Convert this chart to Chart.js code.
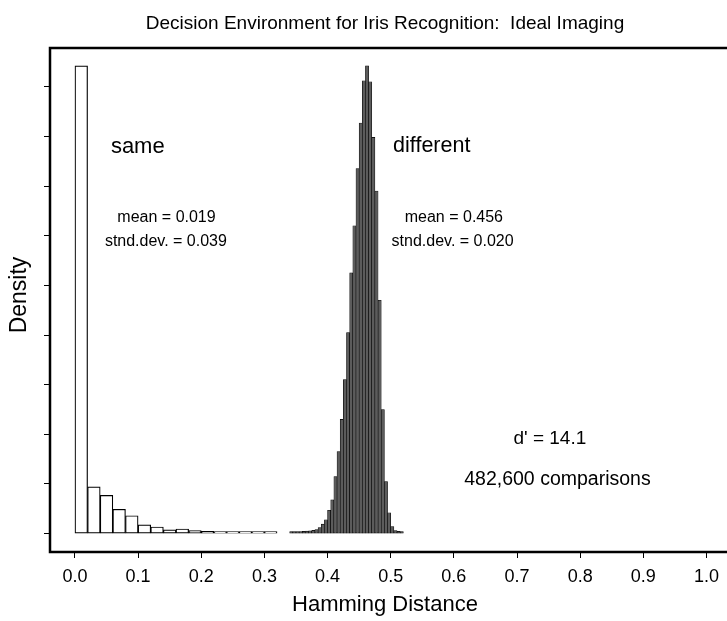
<!DOCTYPE html>
<html>
<head>
<meta charset="utf-8">
<script src="https://cdn.jsdelivr.net/npm/chart.js@4.4.0/dist/chart.umd.min.js"></script>
<style>
  html, body { margin: 0; padding: 0; background: #fff; }
  #wrap { width: 727px; height: 621px; }
</style>
</head>
<body>
<div id="wrap"><canvas id="chart" width="727" height="621"></canvas></div>
<script>
// "same" iris comparisons: bins of width 0.02 (left edges), heights in tick units
const sameBinWidth = 0.02;
const sameBins = [0.00, 0.02, 0.04, 0.06, 0.08, 0.10, 0.12, 0.14,
                  0.16, 0.18, 0.20, 0.22, 0.24, 0.26, 0.28, 0.30];
const sameHeights = [9.42, 0.94, 0.77, 0.49, 0.36, 0.175, 0.134, 0.074,
                     0.094, 0.06, 0.045, 0.04, 0.04, 0.04, 0.04, 0.04];

// "different" iris comparisons: bins of width 0.005
const diffBinWidth = 0.005;
const diffBins = [0.340, 0.345, 0.350, 0.355, 0.360, 0.365, 0.370, 0.375, 0.380,
                  0.385, 0.390, 0.395, 0.400, 0.405, 0.410, 0.415, 0.420, 0.425,
                  0.430, 0.435, 0.440, 0.445, 0.450, 0.455, 0.460, 0.465, 0.470,
                  0.475, 0.480, 0.485, 0.490, 0.495, 0.500, 0.505, 0.510, 0.515];
const diffHeights = [0.04, 0.04, 0.04, 0.04, 0.045, 0.05, 0.055, 0.065, 0.08,
                     0.12, 0.19, 0.28, 0.47, 0.68, 1.15, 1.65, 2.30, 3.10,
                     4.05, 5.25, 6.20, 7.35, 8.27, 9.12, 9.42, 9.10, 7.98,
                     6.90, 4.70, 2.50, 1.05, 0.42, 0.14, 0.06, 0.045, 0.04];

const xTicks = [0.0, 0.1, 0.2, 0.3, 0.4, 0.5, 0.6, 0.7, 0.8, 0.9, 1.0];
const yTicks = [0, 1, 2, 3, 4, 5, 6, 7, 8, 9];

const titleText = 'Decision Environment for Iris Recognition:  Ideal Imaging';
const FONT = '"Liberation Sans", Arial, Helvetica, sans-serif';

// text placed in data coordinates
const notes = [
    { text: 'same', x: 0.0995, y: 7.67, size: 22 },
    { text: 'mean = 0.019', x: 0.145, y: 6.28, size: 16 },
    { text: 'stnd.dev. = 0.039', x: 0.144, y: 5.79, size: 16 },
    { text: 'different', x: 0.565, y: 7.69, size: 21.5 },
    { text: 'mean = 0.456', x: 0.600, y: 6.28, size: 16 },
    { text: 'stnd.dev. = 0.020', x: 0.598, y: 5.79, size: 16 },
    { text: "d' = 14.1", x: 0.752, y: 1.80, size: 19 },
    { text: '482,600 comparisons', x: 0.764, y: 0.98, size: 19.5 }
];

const xMin = -0.0395, xMax = 1.0295;
const yMin = -0.37, yMax = 9.78;

function toBars(bins, heights, width) {
    return bins.map((b, i) => ({ x: b + width / 2, y: heights[i] }));
}

// R-style open box: left, top and bottom, right side runs off the canvas
const framePlugin = {
    id: 'frame',
    afterDraw(chart) {
        const { ctx, chartArea: a } = chart;
        ctx.save();
        ctx.strokeStyle = '#000';
        ctx.lineWidth = 2.5;
        ctx.beginPath();
        ctx.moveTo(chart.width + 5, a.top);
        ctx.lineTo(a.left, a.top);
        ctx.lineTo(a.left, a.bottom);
        ctx.lineTo(chart.width + 5, a.bottom);
        ctx.stroke();
        ctx.restore();
    }
};

const textPlugin = {
    id: 'texts',
    afterDraw(chart) {
        const { ctx } = chart;
        const x = chart.scales.x, y = chart.scales.y;
        ctx.save();
        ctx.fillStyle = '#000';
        ctx.textAlign = 'center';
        ctx.textBaseline = 'alphabetic';

        ctx.font = '19px ' + FONT;
        ctx.fillText(titleText, 385, 29);

        ctx.font = '22px ' + FONT;
        ctx.fillText('Hamming Distance', 385, 611);

        notes.forEach(n => {
            ctx.font = n.size + 'px ' + FONT;
            ctx.fillText(n.text, x.getPixelForValue(n.x), y.getPixelForValue(n.y));
        });

        ctx.translate(26, 295);
        ctx.rotate(-Math.PI / 2);
        ctx.font = '23px ' + FONT;
        ctx.fillText('Density', 0, 0);
        ctx.restore();
    }
};

const tickGrid = {
    display: true,
    drawOnChartArea: false,
    drawTicks: true,
    tickLength: 6,
    color: '#000',
    lineWidth: 1,
    offset: false
};

const ctx = document.getElementById('chart').getContext('2d');
const chart = new Chart(ctx, {
    type: 'bar',
    data: {
        datasets: [{
            label: 'same',
            data: toBars(sameBins, sameHeights, sameBinWidth),
            xAxisID: 'x',
            grouped: false,
            backgroundColor: '#ffffff',
            borderColor: '#000000',
            borderWidth: 1.2,
            borderSkipped: false,
            categoryPercentage: 1,
            barPercentage: 1
        }, {
            label: 'different',
            data: toBars(diffBins, diffHeights, diffBinWidth),
            xAxisID: 'x2',
            grouped: false,
            backgroundColor: '#5c5c5c',
            borderColor: '#000000',
            borderWidth: 0.6,
            borderSkipped: false,
            categoryPercentage: 1,
            barPercentage: 1
        }]
    },
    options: {
        responsive: false,
        animation: false,
        layout: { padding: { top: 48, left: 0, right: 0, bottom: 0 } },
        plugins: {
            legend: { display: false },
            title: { display: false },
            tooltip: { enabled: false }
        },
        scales: {
            x: {
                type: 'linear',
                min: xMin,
                max: xMax,
                offset: false,
                afterBuildTicks: axis => { axis.ticks = xTicks.map(v => ({ value: v })); },
                afterFit: axis => { axis.height = 69; },
                grid: tickGrid,
                border: { display: false },
                ticks: {
                    color: '#000',
                    font: { size: 18, family: FONT },
                    padding: 8,
                    maxRotation: 0,
                    autoSkip: false,
                    callback: v => Number(v).toFixed(1)
                }
            },
            x2: {
                type: 'linear',
                display: false,
                min: xMin,
                max: xMax,
                offset: false
            },
            y: {
                type: 'linear',
                min: yMin,
                max: yMax,
                afterBuildTicks: axis => { axis.ticks = yTicks.map(v => ({ value: v })); },
                afterFit: axis => { axis.width = 50; },
                grid: tickGrid,
                border: { display: false },
                ticks: { display: false }
            }
        }
    },
    plugins: [framePlugin, textPlugin]
});
</script>
</body>
</html>
